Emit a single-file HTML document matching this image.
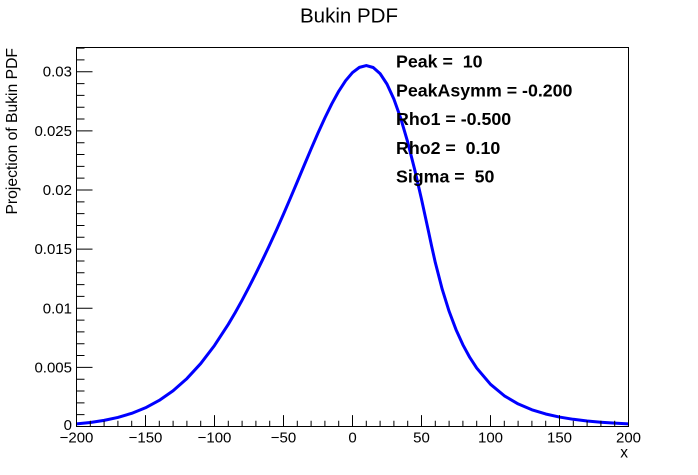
<!DOCTYPE html>
<html>
<head>
<meta charset="utf-8">
<style>
  html,body{margin:0;padding:0;background:#fff;}
  svg{display:block;}
  text{font-family:"Liberation Sans",Arial,sans-serif;fill:#000;white-space:pre;}
</style>
</head>
<body>
<svg width="698" height="475" viewBox="0 0 698 475" xmlns="http://www.w3.org/2000/svg">
  <rect x="0" y="0" width="698" height="475" fill="#fff"/>

  <!-- Title -->
  <text x="349" y="22.7" font-size="20.5" text-anchor="middle">Bukin PDF</text>

  <!-- Curve -->
  <polyline fill="none" stroke="#0000ff" stroke-width="3" stroke-linejoin="round" stroke-linecap="butt"
    points="76.5,423.88 90.3,422.46 104.1,420.38 117.9,417.43 131.7,413.33 145.5,407.76 159.3,400.34 173.1,390.74 186.9,378.57 200.7,363.56 214.5,345.49 228.3,324.31 235.2,312.60 242.1,300.18 249,287.11 255.9,273.46 262.8,259.33 269.13,246.02 269.7,244.80 276.6,229.75 283.5,214.16 290.4,198.09 297.3,181.73 304.2,165.26 311.1,148.94 318,133.03 324.9,117.85 331.8,103.80 338.7,91.27 345.6,80.70 352.5,72.58 359.4,67.37 366.3,65.54 373.2,67.50 380.1,73.62 387,84.13 393.9,99.13 400.8,118.55 407.7,142.10 414.6,169.23 421.5,199.19 428.4,230.95 431.61,246.02 435.3,262.52 442.2,289.19 449.1,311.27 456,329.59 462.9,344.80 469.8,357.48 476.7,368.06 490.5,384.32 504.3,395.78 518.1,403.93 531.9,409.77 545.7,413.98 559.5,417.05 573.3,419.30 587.1,420.97 600.9,422.21 614.7,423.15 628.5,423.85"/>

  <!-- Frame -->
  <rect x="76.5" y="47.5" width="552" height="379" fill="none" stroke="#000" stroke-width="1"/>

  <!-- Y ticks -->
  <path fill="none" stroke="#000" stroke-width="1" d="
    M76.5 426.5H92.5 M76.5 414.67H84.5 M76.5 402.85H84.5 M76.5 391.02H84.5 M76.5 379.20H84.5
    M76.5 367.37H92.5 M76.5 355.55H84.5 M76.5 343.72H84.5 M76.5 331.90H84.5 M76.5 320.07H84.5
    M76.5 308.25H92.5 M76.5 296.42H84.5 M76.5 284.60H84.5 M76.5 272.77H84.5 M76.5 260.95H84.5
    M76.5 249.12H92.5 M76.5 237.30H84.5 M76.5 225.47H84.5 M76.5 213.64H84.5 M76.5 201.82H84.5
    M76.5 189.99H92.5 M76.5 178.17H84.5 M76.5 166.34H84.5 M76.5 154.52H84.5 M76.5 142.69H84.5
    M76.5 130.87H92.5 M76.5 119.04H84.5 M76.5 107.22H84.5 M76.5 95.39H84.5 M76.5 83.57H84.5
    M76.5 71.74H92.5 M76.5 59.92H84.5 M76.5 48.09H84.5"/>

  <!-- X ticks -->
  <path fill="none" stroke="#000" stroke-width="1" d="
    M76.5 426.5V415.1 M90.3 426.5V420.8 M104.1 426.5V420.8 M117.9 426.5V420.8 M131.7 426.5V420.8
    M145.5 426.5V415.1 M159.3 426.5V420.8 M173.1 426.5V420.8 M186.9 426.5V420.8 M200.7 426.5V420.8
    M214.5 426.5V415.1 M228.3 426.5V420.8 M242.1 426.5V420.8 M255.9 426.5V420.8 M269.7 426.5V420.8
    M283.5 426.5V415.1 M297.3 426.5V420.8 M311.1 426.5V420.8 M324.9 426.5V420.8 M338.7 426.5V420.8
    M352.5 426.5V415.1 M366.3 426.5V420.8 M380.1 426.5V420.8 M393.9 426.5V420.8 M407.7 426.5V420.8
    M421.5 426.5V415.1 M435.3 426.5V420.8 M449.1 426.5V420.8 M462.9 426.5V420.8 M476.7 426.5V420.8
    M490.5 426.5V415.1 M504.3 426.5V420.8 M518.1 426.5V420.8 M531.9 426.5V420.8 M545.7 426.5V420.8
    M559.5 426.5V415.1 M573.3 426.5V420.8 M587.1 426.5V420.8 M600.9 426.5V420.8 M614.7 426.5V420.8
    M628.5 426.5V415.1"/>

  <!-- Y labels -->
  <g font-size="15" text-anchor="end">
    <text x="72" y="430">0</text>
    <text x="72" y="372.4">0.005</text>
    <text x="72" y="313.3">0.01</text>
    <text x="72" y="254.1">0.015</text>
    <text x="72" y="195">0.02</text>
    <text x="72" y="135.9">0.025</text>
    <text x="72" y="76.7">0.03</text>
  </g>

  <!-- X labels -->
  <g font-size="15" text-anchor="middle">
    <text x="76.5" y="442.5">−200</text>
    <text x="145.5" y="442.5">−150</text>
    <text x="214.5" y="442.5">−100</text>
    <text x="283.5" y="442.5">−50</text>
    <text x="352.5" y="442.5">0</text>
    <text x="421.5" y="442.5">50</text>
    <text x="490.5" y="442.5">100</text>
    <text x="559.5" y="442.5">150</text>
    <text x="628.5" y="442.5">200</text>
  </g>

  <!-- Axis titles -->
  <text x="628" y="457.5" font-size="15.5" text-anchor="end">x</text>
  <text transform="translate(17,48) rotate(-90)" font-size="15.7" text-anchor="end">Projection of Bukin PDF</text>

  <!-- Parameter box text -->
  <g font-size="17.8" font-weight="bold">
    <text x="396" y="67.7">Peak =  10</text>
    <text x="396" y="96.5">PeakAsymm = -0.200</text>
    <text x="396" y="125.2">Rho1 = -0.500</text>
    <text x="396" y="154">Rho2 =  0.10</text>
    <text x="396" y="182.7">Sigma =  50</text>
  </g>
</svg>
</body>
</html>
